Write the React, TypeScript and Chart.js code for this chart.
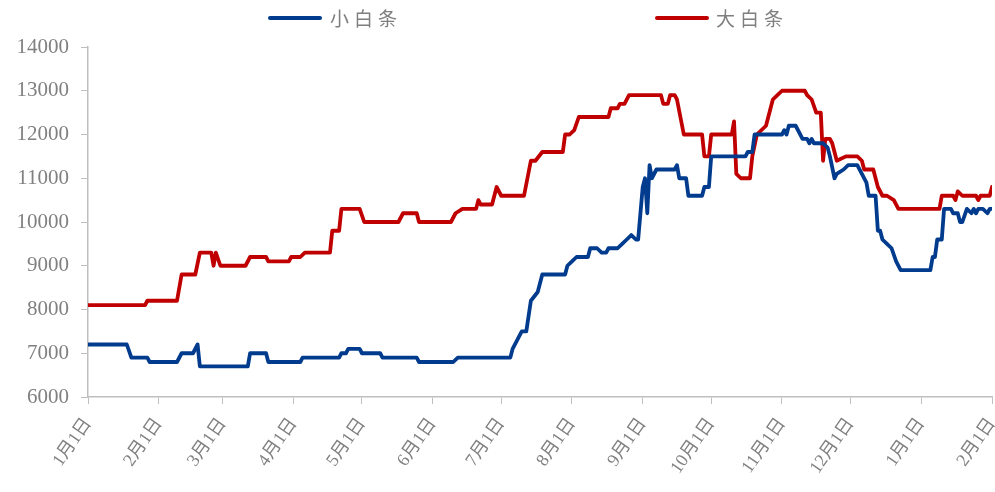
import React, { useEffect, useRef } from "react";
import { Chart, registerables } from "chart.js";

Chart.register(...registerables);

// day offsets from 1月1日 and prices (元/吨)
const smallDays = [0,17,19,26,27,39,41,46,48,49,70,71,78,79,93,94,110,111,113,114,119,120,128,129,144,145,160,162,185,186,188,190,192,194,197,199,209,210,212,214,219,220,223,225,227,228,232,234,236,238,240,241,243,244,245,246,247,249,257,258,259,262,263,269,270,272,273,288,289,291,292,304,305,306,307,310,313,315,316,317,318,322,324,325,327,328,331,333,337,339,341,342,345,346,347,348,350,352,354,356,369,370,371,372,374,375,378,379,381,382,383,385,387,388,389,390,392,394,395,396];
const smallPrices = [7200,7200,6900,6900,6800,6800,7000,7000,7200,6700,6700,7000,7000,6800,6800,6900,6900,7000,7000,7100,7100,7000,7000,6900,6900,6800,6800,6900,6900,7100,7300,7500,7500,8200,8400,8800,8800,9000,9100,9200,9200,9400,9400,9300,9300,9400,9400,9500,9600,9700,9600,9600,10800,11000,10200,11300,11000,11200,11200,11300,11000,11000,10600,10600,10800,10800,11500,11500,11600,11600,12000,12000,12100,12000,12200,12200,11900,11900,11800,11900,11800,11800,11700,11500,11000,11100,11200,11300,11300,11100,10900,10600,10600,9800,9800,9600,9500,9400,9100,8900,8900,9200,9200,9600,9600,10300,10300,10200,10200,10000,10000,10300,10200,10300,10200,10300,10300,10200,10300,10300];

const bigDays = [0,25,26,39,41,47,49,54,55,56,58,69,71,78,79,88,89,93,95,106,107,110,111,119,121,136,138,144,145,159,161,164,170,171,172,177,179,181,191,194,196,199,208,209,211,213,215,228,229,232,233,235,237,251,252,254,255,257,258,261,269,270,272,273,282,283,284,286,290,291,293,297,298,300,302,304,314,315,317,319,321,322,323,325,326,328,332,337,339,340,344,346,348,350,353,355,373,374,379,380,381,383,389,390,391,395,396];
const bigPrices = [8100,8100,8200,8200,8800,8800,9300,9300,9000,9300,9000,9000,9200,9200,9100,9100,9200,9200,9300,9300,9800,9800,10300,10300,10000,10000,10200,10200,10000,10000,10200,10300,10300,10500,10400,10400,10800,10600,10600,11400,11400,11600,11600,12000,12000,12100,12400,12400,12600,12600,12700,12700,12900,12900,12700,12700,12900,12900,12800,12000,12000,11500,11500,12000,12000,12300,11100,11000,11000,11500,12000,12200,12400,12800,12900,13000,13000,12900,12800,12500,12500,11400,11900,11900,11800,11400,11500,11500,11400,11200,11200,10800,10600,10600,10500,10300,10300,10600,10600,10500,10700,10600,10600,10500,10600,10600,10800];

const monthTickDays = [0,31,59,90,120,151,181,212,243,273,304,334,365,396];
const monthTickLabels = ["1月1日","2月1日","3月1日","4月1日","5月1日","6月1日","7月1日","8月1日","9月1日","10月1日","11月1日","12月1日","1月1日","2月1日"];

const seriesNames = ["小白条", "大白条"];
const seriesColors = ["#003B8E", "#C00000"];

const toPoints = (xs: number[], ys: number[]) => xs.map((x, i) => ({ x, y: ys[i] }));

export default function App() {
  const ref = useRef<HTMLCanvasElement | null>(null);

  useEffect(() => {
    if (!ref.current) return;
    const grey = "#bfbfbf";
    const chart = new Chart(ref.current, {
      type: "line",
      data: {
        datasets: [
          {
            label: seriesNames[0],
            data: toPoints(smallDays, smallPrices),
            borderColor: seriesColors[0],
            backgroundColor: seriesColors[0],
            borderWidth: 3.8,
            pointRadius: 0,
            tension: 0,
            borderJoinStyle: "round",
            borderCapStyle: "round",
          },
          {
            label: seriesNames[1],
            data: toPoints(bigDays, bigPrices),
            borderColor: seriesColors[1],
            backgroundColor: seriesColors[1],
            borderWidth: 3.8,
            pointRadius: 0,
            tension: 0,
            borderJoinStyle: "round",
            borderCapStyle: "round",
          },
        ],
      },
      options: {
        responsive: false,
        animation: false,
        layout: { padding: { left: 0, top: 47, right: 3, bottom: 0 } },
        plugins: { legend: { display: false }, tooltip: { enabled: false } },
        scales: {
          x: {
            type: "linear",
            min: 0,
            max: 396,
            afterBuildTicks: (scale: any) => {
              scale.ticks = monthTickDays.map((v) => ({ value: v }));
            },
            afterFit: (scale: any) => {
              scale.height = 95;
              scale.paddingLeft = 0;
              scale.paddingRight = 0;
            },
            ticks: {
              autoSkip: false,
              minRotation: 55,
              maxRotation: 55,
              padding: 10,
              color: "#808080",
              font: { family: "'Liberation Serif', 'Noto Sans CJK SC'", size: 18 },
              callback: (value: any) => {
                const i = monthTickDays.indexOf(Number(value));
                return i >= 0 ? monthTickLabels[i] : "";
              },
            },
            grid: { display: true, drawOnChartArea: false, drawTicks: true, tickLength: 7, color: grey },
            border: { display: true, color: grey, width: 1.5 },
          },
          y: {
            min: 6000,
            max: 14000,
            afterFit: (scale: any) => {
              scale.width = 88;
            },
            ticks: {
              stepSize: 1000,
              padding: 12,
              color: "#808080",
              font: { family: "'Liberation Serif'", size: 21 },
              callback: (value: any) => String(value),
            },
            grid: { display: true, drawOnChartArea: false, drawTicks: true, tickLength: 7, color: grey },
            border: { display: true, color: grey, width: 1.5 },
          },
        },
      },
    });
    return () => chart.destroy();
  }, []);

  const legendText: React.CSSProperties = {
    position: "absolute",
    top: 5,
    fontFamily: "'Noto Sans CJK SC'",
    fontSize: 19,
    letterSpacing: 5,
    color: "#7f7f7f",
    lineHeight: "26px",
  };

  return (
    <div style={{ position: "absolute", left: 0, top: 0, width: 995, height: 492, background: "#fff" }}>
      <canvas ref={ref} width={995} height={492} style={{ position: "absolute", left: 0, top: 0 }} />
      <div style={{ position: "absolute", left: 268, top: 16, width: 54, height: 4, background: seriesColors[0], borderRadius: 2 }} />
      <div style={{ ...legendText, left: 330 }}>{seriesNames[0]}</div>
      <div style={{ position: "absolute", left: 655, top: 16, width: 54, height: 4, background: seriesColors[1], borderRadius: 2 }} />
      <div style={{ ...legendText, left: 716 }}>{seriesNames[1]}</div>
    </div>
  );
}
